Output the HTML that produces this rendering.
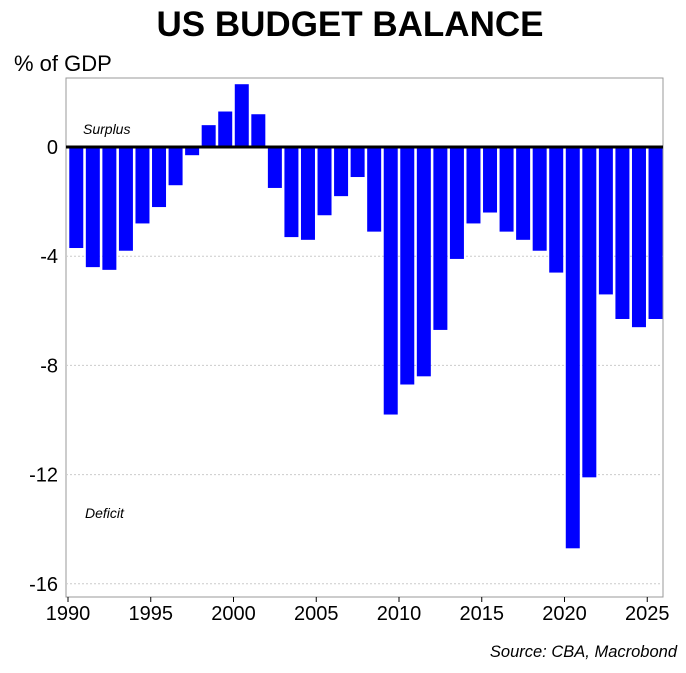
<!DOCTYPE html>
<html><head><meta charset="utf-8"><style>
body{margin:0;background:#fff;font-family:"Liberation Sans",Arial,sans-serif}
</style></head><body>
<svg id="chart" width="686" height="668" xmlns="http://www.w3.org/2000/svg" font-family="Liberation Sans, Arial, sans-serif">
<text x="350" y="36" text-anchor="middle" font-size="35" font-weight="bold">US BUDGET BALANCE</text>
<text x="14" y="71" font-size="22">% of GDP</text>
<rect x="66" y="78" width="597" height="519" fill="none" stroke="#999" stroke-width="1"/>
<g id="grid"></g><g id="bars"></g><g id="axes"></g>
<text x="83" y="134" font-size="14" font-style="italic">Surplus</text>
<text x="85" y="518" font-size="14" font-style="italic">Deficit</text>
<text x="677" y="657" text-anchor="end" font-size="16.5" font-style="italic">Source: CBA, Macrobond</text>
</svg>
<script>
const years=[1991,1992,1993,1994,1995,1996,1997,1998,1999,2000,2001,2002,2003,2004,2005,2006,2007,2008,2009,2010,2011,2012,2013,2014,2015,2016,2017,2018,2019,2020,2021,2022,2023,2024,2025,2026];
const balance=[-3.7,-4.4,-4.5,-3.8,-2.8,-2.2,-1.4,-0.3,0.8,1.3,2.3,1.2,-1.5,-3.3,-3.4,-2.5,-1.8,-1.1,-3.1,-9.8,-8.7,-8.4,-6.7,-4.1,-2.8,-2.4,-3.1,-3.4,-3.8,-4.6,-14.7,-12.1,-5.4,-6.3,-6.6,-6.3];
const yTicks=[0,-4,-8,-12,-16];
const xTicks=[1990,1995,2000,2005,2010,2015,2020,2025];
const NS="http://www.w3.org/2000/svg";
const xS=v=>68+(v-1990)*16.55;
const yS=v=>147-v*27.3;
function mk(t,a,p){const e=document.createElementNS(NS,t);for(const k in a)e.setAttribute(k,a[k]);p.appendChild(e);return e;}
const grid=document.getElementById('grid'),bars=document.getElementById('bars'),axes=document.getElementById('axes');
yTicks.forEach(v=>{
 if(v!==0){const l=mk('line',{x1:66,x2:663,y1:yS(v),y2:yS(v),stroke:'#ccc','stroke-dasharray':'2,2'},grid);
 
 }
 const t=mk('text',{x:58,y:yS(v)+7,'text-anchor':'end','font-size':20},axes);t.textContent=v;
 
 
});
years.forEach((y,i)=>{
 const v=balance[i],c=xS(y-0.5);
 const r=mk('rect',{x:c-7,width:14,y:Math.min(yS(v),yS(0)),height:Math.abs(yS(v)-yS(0)),fill:'#0000ff'},bars);
 
 
});
const z=mk('line',{x1:66,x2:663,y1:yS(0),y2:yS(0),stroke:'#000','stroke-width':3},axes);


xTicks.forEach(v=>{
 const tk=mk('line',{x1:xS(v),x2:xS(v),y1:597,y2:602,stroke:'#000'},axes);
 
 
 const t=mk('text',{x:xS(v),y:620,'text-anchor':'middle','font-size':20},axes);t.textContent=v;
 
 
});
</script>
</body></html>
